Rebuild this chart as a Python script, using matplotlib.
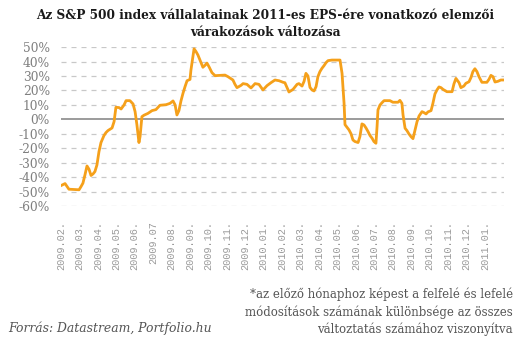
import matplotlib
matplotlib.use("Agg")
import matplotlib.pyplot as plt
import numpy as np

title = "Az S&P 500 index vállalatainak 2011-es EPS-ére vonatkozó elemzői\nvárakozások változása"
source = "Forrás: Datastream, Portfolio.hu"
note = "*az előző hónaphoz képest a felfelé és lefelé\nmódosítások számának különbsége az összes\nváltoztatás számához viszonyítva"

# time in months since 2009.02.
months = [0, 0.22, 0.43, 0.98, 1.09, 1.19, 1.30, 1.41, 1.52, 1.63, 1.74, 1.84, 1.95,
          2.06, 2.17, 2.33, 2.44, 2.55, 2.77, 2.88, 2.98, 3.15, 3.26, 3.42, 3.53, 3.74,
          3.91, 4.02, 4.12, 4.23, 4.29, 4.39, 4.50, 4.72, 4.94, 5.15, 5.37, 5.70, 5.91,
          6.08, 6.19, 6.29, 6.40, 6.51, 6.62, 6.73, 6.84, 7.00, 7.05, 7.16, 7.22, 7.33,
          7.43, 7.54, 7.70, 7.81, 7.92, 8.03, 8.19, 8.36, 8.68, 8.90, 9.06, 9.33, 9.44,
          9.55, 9.77, 9.88, 10.09, 10.31, 10.53, 10.74, 10.96, 11.18, 11.39, 11.61, 11.83,
          12.05, 12.15, 12.26, 12.37, 12.59, 12.81, 12.91, 13.08, 13.19, 13.29, 13.40,
          13.51, 13.62, 13.73, 13.84, 13.94, 14.05, 14.16, 14.27, 14.38, 14.49, 14.70,
          15.14, 15.25, 15.30, 15.36, 15.41, 15.52, 15.63, 15.74, 15.84, 15.95, 16.12,
          16.22, 16.33, 16.44, 16.55, 16.66, 16.77, 16.88, 16.98, 17.09, 17.15, 17.20,
          17.31, 17.42, 17.53, 17.85, 18.01, 18.29, 18.39, 18.50, 18.56, 18.67, 18.77,
          18.88, 18.99, 19.10, 19.21, 19.32, 19.43, 19.59, 19.70, 19.81, 19.91, 20.08,
          20.18, 20.29, 20.40, 20.51, 20.62, 20.73, 20.94, 21.22, 21.32, 21.43, 21.60,
          21.70, 21.86, 21.97, 22.14, 22.25, 22.35, 22.46, 22.57, 22.68, 22.84, 23.11,
          23.22, 23.33, 23.44, 23.55, 23.71, 23.87, 24.04]

values = [-45.9, -44.5, -48.4, -48.8, -46.5, -44.2, -38.5, -32.3, -34.6, -38.9, -37.8, -36.2, -31.6,
          -22.4, -16.1, -11.3, -9.2, -7.8, -6.0, -1.6, 8.3, 8.1, 7.1, 9.9, 12.9, 12.9,
          10.6, 5.3, -3.9, -16.1, -12.0, 1.8, 2.8, 4.1, 6.0, 6.7, 9.7, 10.1, 11.0,
          12.7, 10.0, 3.0, 6.0, 12.7, 18.0, 22.6, 26.7, 27.6, 34.0, 43.3, 48.8, 46.8,
          44.5, 41.0, 36.0, 37.3, 38.9, 36.4, 32.3, 30.2, 30.4, 30.6, 29.5, 27.2, 24.2,
          21.9, 23.5, 24.7, 24.2, 21.7, 24.7, 24.2, 20.3, 23.3, 25.3, 27.2, 26.7,
          25.6, 25.3, 22.1, 18.9, 20.7, 24.2, 24.7, 23.0, 26.3, 31.8, 30.0,
          22.1, 20.3, 19.6, 22.6, 29.5, 33.0, 35.3, 37.1, 39.2, 40.6, 41.0,
          41.0, 31.8, 22.6, 11.0, -3.7, -5.5, -7.4, -10.1, -14.3, -15.4, -16.1,
          -12.0, -3.2, -3.9, -6.0, -8.5, -11.3, -13.1, -15.4, -16.6, -5.1, 6.5,
          9.9, 11.5, 12.9, 12.9, 11.8, 11.8, 13.1, 11.0, 3.0, -6.2, -7.8,
          -10.1, -12.0, -13.4, -7.4, -1.6, 2.3, 5.3, 4.6, 3.7, 5.1, 6.0,
          11.0, 17.5, 20.3, 22.4, 21.9, 20.7, 19.1, 19.1, 24.4, 28.3, 25.3,
          21.9, 23.0, 24.9, 26.0, 29.0, 33.0, 35.0, 33.0, 29.5, 25.6, 25.6,
          27.6, 30.4, 29.5, 25.8, 26.3, 27.2, 27.2]

x_labels = ["2009.02.", "2009.03.", "2009.04.", "2009.05.", "2009.06.", "2009.07",
            "2009.08.", "2009.09.", "2009.10.", "2009.11.", "2009.12.", "2010.01.",
            "2010.02.", "2010.03.", "2010.04.", "2010.05.", "2010.06.", "2010.07.",
            "2010.08.", "2010.09.", "2010.10.", "2010.11.", "2010.12.", "2011.01."]
y_ticks = [50, 40, 30, 20, 10, 0, -10, -20, -30, -40, -50, -60]

fig = plt.figure(figsize=(5.3, 3.41), dpi=100)
ax = fig.add_axes([0.1151, 0.396, 0.951 - 0.1151, 0.862 - 0.396])

for yv in y_ticks:
    if yv != 0:
        ax.axhline(yv, color="#c8c8c8", lw=0.9, ls=(0, (4, 4)), zorder=1)
ax.axhline(0, color="#8a8a8a", lw=1.2, zorder=2)

ax.plot(months, values, color="#F5A01A", lw=2.0, zorder=3)

ax.set_xlim(0, 24.04)
ax.set_ylim(-60, 50)
ax.set_yticks(y_ticks)
ax.set_yticklabels([f"{v}%" for v in y_ticks], fontsize=8.8, color="#7f7f7f",
                   family="DejaVu Serif")
ax.set_xticks(np.arange(len(x_labels)))
ax.set_xticklabels(x_labels, rotation=90, fontsize=7.4, color="#9a9a9a",
                   family="Liberation Mono")
ax.tick_params(length=0)
ax.tick_params(axis="x", pad=11)
ax.tick_params(axis="y", pad=8)
for s in ax.spines.values():
    s.set_visible(False)

fig.text(0.5, 0.975, title, ha="center", va="top", fontsize=8.7, fontweight="bold",
         family="DejaVu Serif", color="#1a1a1a", linespacing=1.45)
fig.text(0.968, 0.085, note, ha="right", va="center", fontsize=8.5,
         family="DejaVu Serif", color="#555555", linespacing=1.4)
fig.text(0.015, 0.038, source, ha="left", va="center", fontsize=8.9,
         family="DejaVu Serif", style="italic", color="#555555")

fig.savefig("out.png", dpi=100)
